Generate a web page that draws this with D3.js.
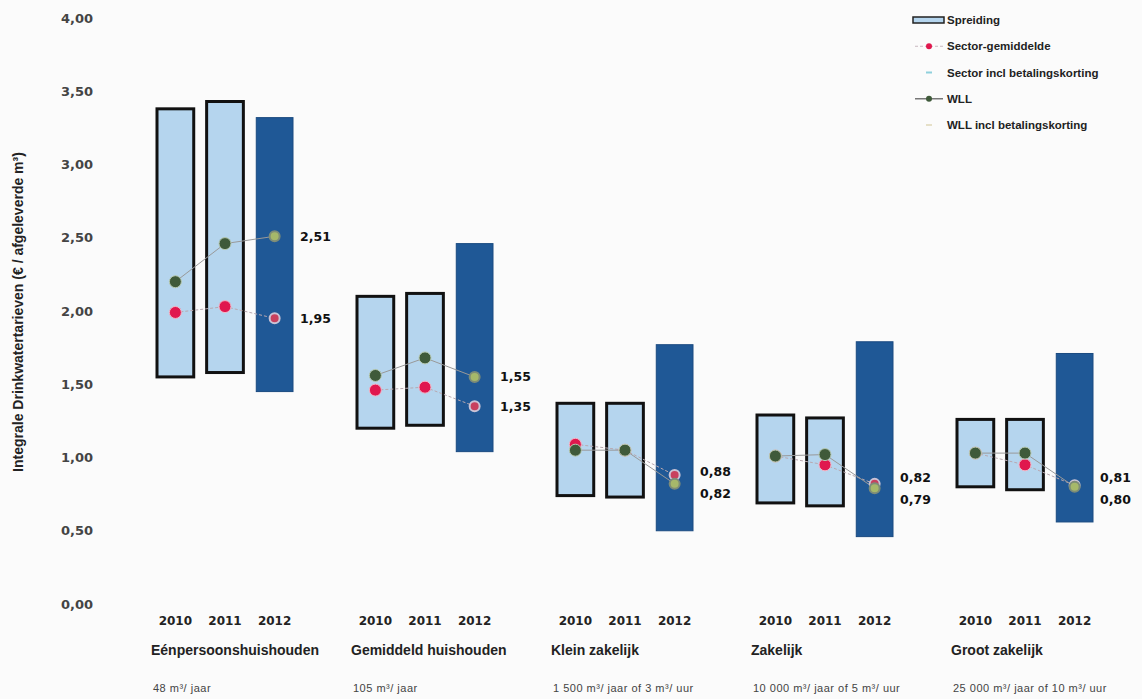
<!DOCTYPE html>
<html>
<head>
<meta charset="utf-8">
<script src="https://cdn.jsdelivr.net/npm/d3@7"></script>
<style>
  body { margin: 0; background: #fbfbfb; }
  svg { font-family: "Liberation Sans", Arial, sans-serif; }
</style>
</head>
<body>
<div id="chart"></div>
<script>
// chart data
var groups = ["Eénpersoonshuishouden", "Gemiddeld huishouden", "Klein zakelijk", "Zakelijk", "Groot zakelijk"];
var volumes = ["48 m³/ jaar", "105 m³/ jaar", "1 500 m³/ jaar of 3 m³/ uur", "10 000 m³/ jaar of 5 m³/ uur", "25 000 m³/ jaar of 10 m³/ uur"];
var years = ["2010", "2011", "2012"];
var spreadMin = [[1.55, 1.58, 1.45], [1.20, 1.22, 1.04], [0.74, 0.73, 0.50], [0.69, 0.67, 0.46], [0.80, 0.78, 0.56]];
var spreadMax = [[3.38, 3.43, 3.32], [2.10, 2.12, 2.46], [1.37, 1.37, 1.77], [1.29, 1.27, 1.79], [1.26, 1.26, 1.71]];
var sector = [[1.99, 2.03, 1.95], [1.46, 1.48, 1.35], [1.09, 1.05, 0.88], [1.01, 0.95, 0.82], [1.03, 0.95, 0.81]];
var wll = [[2.20, 2.46, 2.51], [1.56, 1.68, 1.55], [1.05, 1.05, 0.82], [1.01, 1.02, 0.79], [1.03, 1.03, 0.80]];
var yTicks = [0, 0.5, 1, 1.5, 2, 2.5, 3, 3.5, 4];
var legendLabels = ["Spreiding", "Sector-gemiddelde", "Sector incl betalingskorting", "WLL", "WLL incl betalingskorting"];

var svgWidth = 1142;
var svgHeight = 699;
var numFont = "DejaVu Sans, Verdana, sans-serif";

var nl = d3.formatLocale({ decimal: ",", thousands: ".", grouping: [3], currency: ["€", ""] });
var fmt = nl.format(".2f");

var svg = d3.select("#chart")
    .append("svg")
    .attr("width", svgWidth)
    .attr("height", svgHeight);

// scales
var y = d3.scaleLinear().domain([0, 4]).range([604, 18]);
var xGroup = d3.scaleBand().domain(groups).range([150, 1150]).paddingInner(0);
var xYear = d3.scaleBand().domain(years).range([7, 143]).paddingInner(0.26);

// y axis
var yAxis = d3.axisLeft(y).tickValues(yTicks).tickFormat(fmt).tickSize(0).tickPadding(0);
var yG = svg.append("g").attr("transform", "translate(93,0)").call(yAxis);
yG.select(".domain").remove();
yG.selectAll("text")
    .attr("font-size", 13)
    .attr("font-weight", "bold")
    .attr("fill", "#444")
    .attr("font-family", numFont);

svg.append("text")
    .attr("transform", "translate(23," + 312 + ") rotate(-90)")
    .attr("text-anchor", "middle")
    .attr("font-size", 14)
    .attr("font-weight", "bold")
    .attr("fill", "#222")
    .text("Integrale Drinkwatertarieven (€ / afgeleverde m³)");

// flatten into records
var rows = [];
groups.forEach(function(g, gi) {
    years.forEach(function(yr, yi) {
        rows.push({
            group: g, gi: gi, year: yr, yi: yi,
            lo: spreadMin[gi][yi], hi: spreadMax[gi][yi],
            sector: sector[gi][yi], wll: wll[gi][yi]
        });
    });
});
function cx(d) { return xGroup(d.group) + xYear(d.year) + xYear.bandwidth() / 2; }

// bars (spreiding)
svg.selectAll("rect.bar")
    .data(rows)
    .enter()
    .append("rect")
    .attr("class", "bar")
    .attr("x", d => xGroup(d.group) + xYear(d.year))
    .attr("y", d => y(d.hi))
    .attr("width", xYear.bandwidth())
    .attr("height", d => y(d.lo) - y(d.hi))
    .attr("fill", d => d.yi == 2 ? "#1f5896" : "#b5d5ee")
    .attr("stroke", d => d.yi == 2 ? "#1a4a80" : "#111")
    .attr("stroke-width", d => d.yi == 2 ? 1 : 3);

// connecting lines per group
groups.forEach(function(g, gi) {
    var gr = rows.filter(r => r.gi == gi);
    svg.append("path")
        .datum(gr)
        .attr("fill", "none")
        .attr("stroke", "#b8a8b0")
        .attr("stroke-width", 1)
        .attr("stroke-dasharray", "3,2")
        .attr("d", d3.line().x(cx).y(d => y(d.sector)));
    svg.append("path")
        .datum(gr)
        .attr("fill", "none")
        .attr("stroke", "#999")
        .attr("stroke-width", 1)
        .attr("d", d3.line().x(cx).y(d => y(d.wll)));
});

// sector dots
svg.selectAll("circle.sector")
    .data(rows)
    .enter()
    .append("circle")
    .attr("class", "sector")
    .attr("cx", cx)
    .attr("cy", d => y(d.sector))
    .attr("r", d => d.yi == 2 ? 5 : 6)
    .attr("fill", d => d.yi == 2 ? "#c8405e" : "#e0184e")
    .attr("stroke", d => d.yi == 2 ? "#c9c3d6" : "#f2b6c6")
    .attr("stroke-width", d => d.yi == 2 ? 2 : 1);

// WLL dots
svg.selectAll("circle.wll")
    .data(rows)
    .enter()
    .append("circle")
    .attr("class", "wll")
    .attr("cx", cx)
    .attr("cy", d => y(d.wll))
    .attr("r", d => d.yi == 2 ? 5 : 6)
    .attr("fill", d => d.yi == 2 ? "#a6b86a" : "#3f5a3a")
    .attr("stroke", d => d.yi == 2 ? "#7d8c78" : "#b7c9b0")
    .attr("stroke-width", d => d.yi == 2 ? 2 : 1);

// value labels for 2012
groups.forEach(function(g, gi) {
    var last = rows.filter(r => r.gi == gi && r.yi == 2)[0];
    var lx = xGroup(g) + xYear("2012") + xYear.bandwidth() + 7;
    var vals = [last.wll, last.sector].sort((a, b) => b - a);
    var ys = vals.map(v => y(v));
    var gap = 22;
    if (ys[1] - ys[0] < gap) {
        var mid = (ys[0] + ys[1]) / 2 + 3;
        ys = [mid - gap / 2, mid + gap / 2];
    }
    vals.forEach(function(v, i) {
        svg.append("text")
            .attr("x", lx)
            .attr("y", ys[i])
            .attr("dy", "0.35em")
            .attr("font-size", 12.5)
            .attr("font-weight", "bold")
            .attr("font-family", numFont)
            .attr("fill", "#111")
            .text(fmt(v));
    });
});

// year labels
svg.selectAll("text.year")
    .data(rows)
    .enter()
    .append("text")
    .attr("class", "year")
    .attr("x", cx)
    .attr("y", 625)
    .attr("text-anchor", "middle")
    .attr("font-size", 12)
    .attr("font-weight", "bold")
    .attr("font-family", numFont)
    .attr("fill", "#222")
    .text(d => d.year);

// group names and volumes
svg.selectAll("text.gname")
    .data(groups)
    .enter()
    .append("text")
    .attr("class", "gname")
    .attr("x", d => xGroup(d) + 1)
    .attr("y", 655)
    .attr("font-size", 14)
    .attr("font-weight", "bold")
    .attr("fill", "#222")
    .text(d => d);

svg.selectAll("text.vol")
    .data(volumes)
    .enter()
    .append("text")
    .attr("class", "vol")
    .attr("x", (d, i) => xGroup(groups[i]) + 3)
    .attr("y", 692)
    .attr("font-size", 11)
    .attr("letter-spacing", 0.5)
    .attr("fill", "#444")
    .text(d => d);

// legend
var legend = svg.append("g").attr("transform", "translate(913,0)");
var legY = d3.scalePoint().domain(legendLabels).range([20, 125]);

legend.append("rect")
    .attr("x", 0).attr("y", legY(legendLabels[0]) - 3)
    .attr("width", 31).attr("height", 6)
    .attr("fill", "#b5d5ee").attr("stroke", "#222").attr("stroke-width", 1.5);

legend.append("line")
    .attr("x1", 2).attr("x2", 30)
    .attr("y1", legY(legendLabels[1])).attr("y2", legY(legendLabels[1]))
    .attr("stroke", "#c8b8c0").attr("stroke-dasharray", "3,2");
legend.append("circle")
    .attr("cx", 16).attr("cy", legY(legendLabels[1])).attr("r", 3)
    .attr("fill", "#e0184e");

legend.append("line")
    .attr("x1", 13).attr("x2", 19)
    .attr("y1", legY(legendLabels[2])).attr("y2", legY(legendLabels[2]))
    .attr("stroke", "#8fd0dc").attr("stroke-width", 2);

legend.append("line")
    .attr("x1", 2).attr("x2", 30)
    .attr("y1", legY(legendLabels[3])).attr("y2", legY(legendLabels[3]))
    .attr("stroke", "#777").attr("stroke-width", 1.5);
legend.append("circle")
    .attr("cx", 16).attr("cy", legY(legendLabels[3])).attr("r", 3)
    .attr("fill", "#3f5a3a");

legend.append("line")
    .attr("x1", 13).attr("x2", 19)
    .attr("y1", legY(legendLabels[4])).attr("y2", legY(legendLabels[4]))
    .attr("stroke", "#e6e0c8").attr("stroke-width", 2);

legend.selectAll("text")
    .data(legendLabels)
    .enter()
    .append("text")
    .attr("x", 34)
    .attr("y", d => legY(d))
    .attr("dy", "0.35em")
    .attr("font-size", 11.5)
    .attr("font-weight", "bold")
    .attr("fill", "#222")
    .text(d => d);
</script>
</body>
</html>
